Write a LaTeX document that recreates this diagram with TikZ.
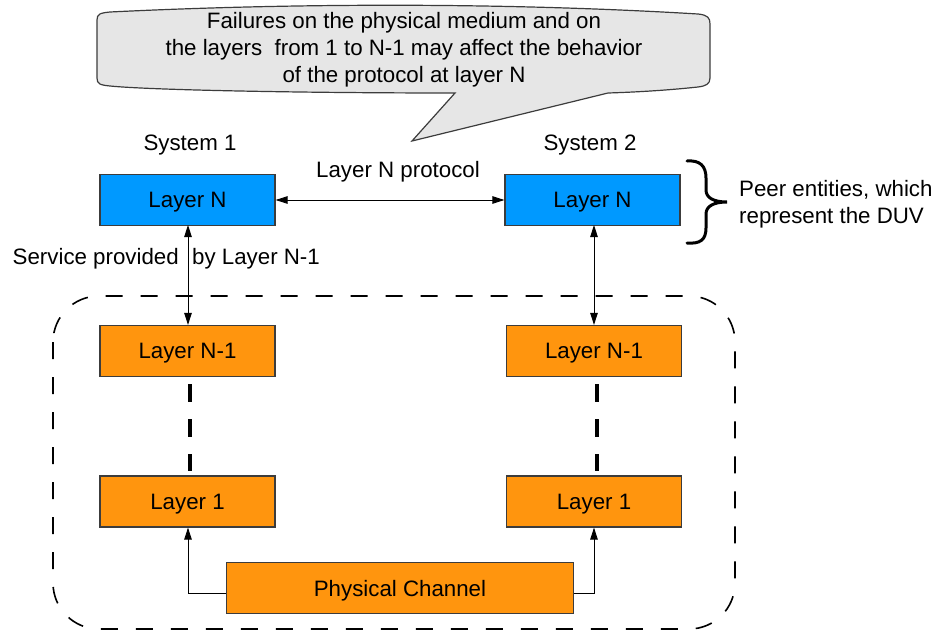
\documentclass[tikz,border=0pt]{standalone}
\usepackage{fontspec}
\setmainfont{Liberation Sans}
\usetikzlibrary{arrows.meta}
\definecolor{layerblue}{RGB}{0,153,255}
\definecolor{layerorange}{RGB}{255,149,14}
\definecolor{boxline}{RGB}{60,60,60}
\definecolor{bubblefill}{RGB}{230,230,230}
\tikzset{
  layerbox/.style={draw=boxline, line width=1.2pt, minimum width=175pt, minimum height=51pt,
    inner sep=0pt, text depth=0pt, font=\fontsize{22.3}{26}\selectfont},
  bluebox/.style={layerbox, fill=layerblue},
  orangebox/.style={layerbox, fill=layerorange},
  label/.style={font=\fontsize{22.3}{27}\selectfont, inner sep=0pt},
  link/.style={line width=0.9pt, draw=black},
  tip/.style={-{Triangle[length=12pt,width=7.5pt]}},
  bothtips/.style={{Triangle[length=12pt,width=7.5pt]}-{Triangle[length=12pt,width=7.5pt]}},
  stack/.style={line width=4pt, dash pattern=on 18pt off 17pt},
  region/.style={line width=1.6pt, dash pattern=on 17pt off 18pt, rounded corners=46pt}
}
\begin{document}
\begin{tikzpicture}[x=1pt,y=-1pt]
\useasboundingbox (0,0) rectangle (938,632);

% speech bubble
\draw[boxline, line width=1.2pt, fill=bubblefill]
  (97,20) .. controls (97,14) and (100,13) .. (110,12)
  .. controls (300,2.7) and (510,2.7) .. (698,14)
  .. controls (708,15) and (710,18) .. (710,24) -- (710,78)
  .. controls (710,84) and (706,86) .. (698,87)
  .. controls (670,90) and (640,92) .. (608,93)
  -- (412,141) -- (455,93)
  .. controls (300,93) and (150,90) .. (110,86)
  .. controls (100,85) and (97,84) .. (97,78) -- cycle;
\node[label, align=center] (note) at (404,50)
  {Failures on the physical medium and on\\
   the layers\ \ from 1 to N-1 may affect the behavior\\
   of the protocol at layer N};

% system headers
\node[label] (sys1) at (190,145) {System 1};
\node[label] (sys2) at (590,145) {System 2};

% layer boxes
\node[bluebox]   (n1)  at (187.5,200) {Layer N};
\node[bluebox]   (n2)  at (592.5,200) {Layer N};
\node[orangebox] (m1)  at (187.5,351) {Layer N-1};
\node[orangebox] (m2)  at (594,351) {Layer N-1};
\node[orangebox] (l1)  at (187.5,501.5) {Layer 1};
\node[orangebox] (l2)  at (594,501.5) {Layer 1};
\node[orangebox, minimum width=347pt] (phy) at (400,588) {Physical Channel};

% peer protocol
\node[label] (proto) at (398,172) {Layer N protocol};
\draw[link, bothtips] (n1.east) -- (n2.west);

% service interface
\coordinate (s1) at (188,225);
\coordinate (s2) at (594,225);
\draw[link, bothtips] (s1) -- (s1 |- m1.north);
\draw[link, bothtips] (s2) -- (s2 |- m2.north);
\node[label, anchor=east] (svcA) at (179,259) {Service provided};
\node[label, anchor=west] (svcB) at (192,259) {by Layer N-1};

% intermediate layers
\coordinate (d1) at (190,384);
\coordinate (d2) at (597,384);
\draw[stack] (d1) -- (190,471);
\draw[stack] (d2) -- (597,471);

% physical channel feeding both stacks
\coordinate (p1) at (188,593);
\coordinate (p2) at (594,593);
\draw[link, tip] (phy.west |- p1) -- (p1) -- (p1 |- l1.south);
\draw[link, tip] (phy.east |- p2) -- (p2) -- (p2 |- l2.south);

% lower layers region
\draw[region] (53,296) rectangle (735,629);

% peer entities brace
\draw[line width=3pt, line cap=round]
  (687,161) .. controls (700,160) and (706,166) .. (706,178) -- (706,190)
  .. controls (706,198) and (714,202) .. (727,202)
  .. controls (714,202) and (706,206) .. (706,214) -- (706,228)
  .. controls (706,240) and (700,244) .. (687,243);
\node[label, anchor=west, align=left] (peer) at (739,204)
  {Peer entities, which\\represent the DUV};
\end{tikzpicture}
\end{document}
